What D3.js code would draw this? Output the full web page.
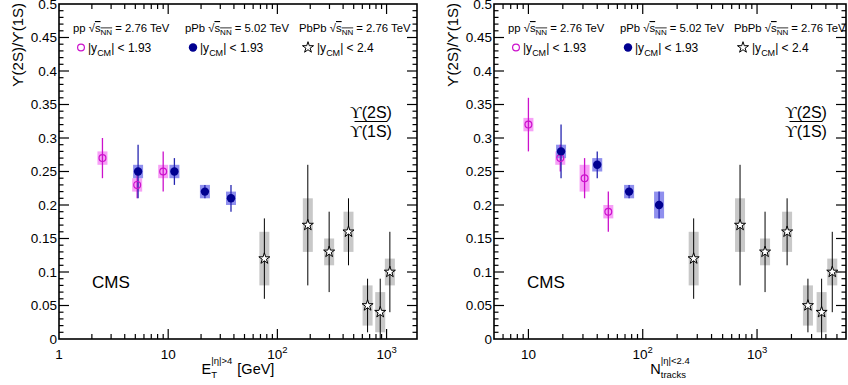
<!DOCTYPE html>
<html>
<head>
<meta charset="utf-8">
<script src="https://cdn.jsdelivr.net/npm/d3@7"></script>
<style>
  body { margin: 0; background: #fff; }
  text { font-family: "Liberation Sans", Arial, Helvetica, sans-serif; fill: #000; }
</style>
</head>
<body>
<svg id="chart" width="848" height="385"></svg>
<script>
// ---- data ----
// left panel, x = E_T^{|eta|>4} [GeV]
const ppEt = [2.5, 5.2, 9];
const ppEtRatio = [0.27, 0.23, 0.25];
const ppEtStat = [0.03, 0.02, 0.03];
const ppEtSyst = [0.01, 0.01, 0.01];

const pPbEt = [5.3, 11.4, 21.7, 37.6];
const pPbEtRatio = [0.25, 0.25, 0.22, 0.21];
const pPbEtStat = [0.04, 0.02, 0.01, 0.02];
const pPbEtSyst = [0.01, 0.01, 0.01, 0.01];

const PbPbEt = [76, 190, 298, 448, 670, 875, 1072];

// right panel, x = N_tracks^{|eta|<2.4}
const ppNtrk = [10, 19, 31, 50];
const ppNtrkRatio = [0.32, 0.27, 0.24, 0.19];
const ppNtrkStat = [0.04, 0.02, 0.03, 0.03];
const ppNtrkSyst = [0.01, 0.01, 0.02, 0.01];

const pPbNtrk = [19.3, 40, 76, 139];
const pPbNtrkRatio = [0.28, 0.26, 0.22, 0.20];
const pPbNtrkStat = [0.04, 0.02, 0.01, 0.02];
const pPbNtrkSyst = [0.01, 0.01, 0.01, 0.02];

const PbPbNtrk = [279, 710, 1175, 1832, 2787, 3672, 4550];

// PbPb ratios are the same in both panels
const PbPbRatio = [0.12, 0.17, 0.13, 0.16, 0.05, 0.04, 0.10];
const PbPbStat = [0.06, 0.09, 0.06, 0.05, 0.04, 0.05, 0.06];
const PbPbSyst = [0.04, 0.04, 0.02, 0.03, 0.03, 0.03, 0.02];

const yMajorTicks = [0, 0.05, 0.1, 0.15, 0.2, 0.25, 0.3, 0.35, 0.4, 0.45, 0.5];
const legendSystems = ["pp", "pPb", "PbPb"];
const legendEnergies = ["2.76", "5.02", "2.76"];
const legendRapidity = ["1.93", "1.93", "2.4"];

const colPP = "#cc11cc", colPPbox = "#f7a0f7";
const colPA = "#000090", colPAline = "#2525b0", colPAbox = "#9090ee";
const colAA = "#000", colAAbox = "#c8c8c8";

const svg = d3.select("#chart");
const yTop = 4, yBottom = 339;
const y = d3.scaleLinear().domain([0, 0.5]).range([yBottom, yTop]);

function series(xs, ys, stat, syst) {
  return xs.map((d, i) => ({ x: d, y: ys[i], stat: stat[i], syst: syst[i] }));
}

const panels = [
  {
    x0: 59, x1: 417, domain: [1, 1900], labels: [1, 10, 100, 1000], title: "Et",
    pp: series(ppEt, ppEtRatio, ppEtStat, ppEtSyst),
    pPb: series(pPbEt, pPbEtRatio, pPbEtStat, pPbEtSyst),
    PbPb: series(PbPbEt, PbPbRatio, PbPbStat, PbPbSyst)
  },
  {
    x0: 494, x1: 846, domain: [5, 6000], labels: [10, 100, 1000], title: "Ntrk",
    pp: series(ppNtrk, ppNtrkRatio, ppNtrkStat, ppNtrkSyst),
    pPb: series(pPbNtrk, pPbNtrkRatio, pPbNtrkStat, pPbNtrkSyst),
    PbPb: series(PbPbNtrk, PbPbRatio, PbPbStat, PbPbSyst)
  }
];

const star = d3.symbol(d3.symbolStar, 38);

function drawPanel(p, idx) {
  const x = d3.scaleLog().domain(p.domain).range([p.x0, p.x1]);
  const g = svg.append("g");

  const clipId = "clip" + idx;
  g.append("clipPath").attr("id", clipId)
    .append("rect").attr("x", p.x0).attr("y", yTop)
    .attr("width", p.x1 - p.x0).attr("height", yBottom - yTop);
  const plot = g.append("g").attr("clip-path", `url(#${clipId})`);

  // systematic boxes
  function boxes(data, fill) {
    plot.append("g").selectAll("rect").data(data).join("rect")
      .attr("x", d => x(d.x) - 5).attr("width", 10)
      .attr("y", d => y(d.y + d.syst))
      .attr("height", d => y(d.y - d.syst) - y(d.y + d.syst))
      .attr("fill", fill);
  }
  function bars(data, col, w) {
    plot.append("g").selectAll("line").data(data).join("line")
      .attr("x1", d => x(d.x)).attr("x2", d => x(d.x))
      .attr("y1", d => y(d.y + d.stat)).attr("y2", d => y(Math.max(0, d.y - d.stat)))
      .attr("stroke", col).attr("stroke-width", w);
  }
  boxes(p.pp, colPPbox);
  boxes(p.pPb, colPAbox);
  boxes(p.PbPb, colAAbox);
  bars(p.pp, colPP, 1.3);
  bars(p.pPb, colPAline, 1.3);
  bars(p.PbPb, colAA, 1);

  plot.append("g").selectAll("circle").data(p.pp).join("circle")
    .attr("cx", d => x(d.x)).attr("cy", d => y(d.y)).attr("r", 3.4)
    .attr("fill", "none").attr("stroke", colPP).attr("stroke-width", 1.2);
  plot.append("g").selectAll("circle").data(p.pPb).join("circle")
    .attr("cx", d => x(d.x)).attr("cy", d => y(d.y)).attr("r", 4.2)
    .attr("fill", colPA);
  plot.append("g").selectAll("path").data(p.PbPb).join("path")
    .attr("d", star)
    .attr("transform", d => `translate(${x(d.x)},${y(d.y)})`)
    .attr("fill", "#fff").attr("stroke", "#000").attr("stroke-width", 1);

  // frame
  g.append("rect").attr("x", p.x0).attr("y", yTop)
    .attr("width", p.x1 - p.x0).attr("height", yBottom - yTop)
    .attr("fill", "none").attr("stroke", "#000").attr("stroke-width", 1.6);

  // x ticks (bottom and top, inside)
  const xt = x.ticks().filter(t => t > p.domain[0] && t < p.domain[1]);
  const isMajor = t => Math.abs(Math.log10(t) - Math.round(Math.log10(t))) < 1e-9;
  g.append("g").selectAll("line").data(xt).join("line")
    .attr("x1", d => x(d)).attr("x2", d => x(d))
    .attr("y1", yBottom).attr("y2", d => yBottom - (isMajor(d) ? 10 : 5))
    .attr("stroke", "#000").attr("stroke-width", 1.2);
  g.append("g").selectAll("line").data(xt).join("line")
    .attr("x1", d => x(d)).attr("x2", d => x(d))
    .attr("y1", yTop).attr("y2", d => yTop + (isMajor(d) ? 10 : 5))
    .attr("stroke", "#000").attr("stroke-width", 1.2);

  // y ticks (left and right, inside)
  const yt = d3.range(1, 50).map(i => i / 100);
  const yMaj = v => Math.abs(v * 20 - Math.round(v * 20)) < 1e-9;
  g.append("g").selectAll("line").data(yt).join("line")
    .attr("x1", p.x0).attr("x2", d => p.x0 + (yMaj(d) ? 10 : 4.5))
    .attr("y1", d => y(d)).attr("y2", d => y(d))
    .attr("stroke", "#000").attr("stroke-width", 1.2);
  g.append("g").selectAll("line").data(yt).join("line")
    .attr("x1", p.x1).attr("x2", d => p.x1 - (yMaj(d) ? 10 : 4.5))
    .attr("y1", d => y(d)).attr("y2", d => y(d))
    .attr("stroke", "#000").attr("stroke-width", 1.2);

  // y tick labels
  g.append("g").selectAll("text").data(yMajorTicks).join("text")
    .attr("x", p.x0 - 2).attr("y", d => y(d)).attr("dy", "0.36em")
    .attr("text-anchor", "end").attr("font-size", 13.5)
    .text(d => d3.format("~g")(d));

  // x tick labels
  p.labels.forEach(v => {
    const t = g.append("text").attr("x", x(v)).attr("y", 359)
      .attr("text-anchor", "middle").attr("font-size", 13.5);
    const e = Math.round(Math.log10(v));
    if (e < 2) t.text(String(v));
    else {
      t.append("tspan").text("10");
      t.append("tspan").attr("font-size", 9.5).attr("dy", -6).text(e);
    }
  });

  // y title
  g.append("text")
    .attr("transform", `translate(${p.x0 - 36},3) rotate(-90)`)
    .attr("text-anchor", "end").attr("font-size", 15)
    .text("ϒ(2S)/ϒ(1S)");

  // x title
  const tg = g.append("g");
  let cx = 0;
  if (p.title === "Et") {
    const e = tg.append("text").attr("x", 0).attr("y", 374).attr("font-size", 14.5).text("E");
    cx = e.node().getComputedTextLength();
    const sup = tg.append("text").attr("x", cx).attr("y", 364).attr("font-size", 9.5).text("|η|>4");
    tg.append("text").attr("x", cx).attr("y", 378).attr("font-size", 9.5).text("T");
    cx += sup.node().getComputedTextLength() + 5;
    const gev = tg.append("text").attr("x", cx).attr("y", 374).attr("font-size", 14.5).text("[GeV]");
    cx += gev.node().getComputedTextLength();
  } else {
    const n = tg.append("text").attr("x", 0).attr("y", 374).attr("font-size", 14.5).text("N");
    cx = n.node().getComputedTextLength();
    const sup = tg.append("text").attr("x", cx).attr("y", 364).attr("font-size", 9.5).text("|η|<2.4");
    const sub = tg.append("text").attr("x", cx).attr("y", 378).attr("font-size", 9.5).text("tracks");
    cx += Math.max(sup.node().getComputedTextLength(), sub.node().getComputedTextLength());
  }
  tg.attr("transform", `translate(${(p.x0 + p.x1) / 2 - cx / 2},0)`);

  // legend
  const legOff = [14, 126, 240];
  const mkOff = [22, 134, 249];
  const txtOff = [29, 141, 258];
  legendSystems.forEach((s, i) => {
    const t = g.append("text").attr("x", p.x0 + legOff[i]).attr("y", 32).attr("font-size", 11.3);
    t.append("tspan").text(s + " ");
    t.append("tspan").text("√");
    t.append("tspan").attr("text-decoration", "overline").text("s");
    t.append("tspan").attr("text-decoration", "overline").attr("font-size", 8).attr("dy", 2.5).text("NN");
    t.append("tspan").attr("dy", -2.5).text(" = " + legendEnergies[i] + " TeV");

    const mx = p.x0 + mkOff[i], my = 47.5;
    if (i === 0) g.append("circle").attr("cx", mx).attr("cy", my).attr("r", 3.4)
      .attr("fill", "none").attr("stroke", colPP).attr("stroke-width", 1.2);
    else if (i === 1) g.append("circle").attr("cx", mx).attr("cy", my).attr("r", 4.2).attr("fill", colPA);
    else g.append("path").attr("d", star).attr("transform", `translate(${mx},${my})`)
      .attr("fill", "#fff").attr("stroke", "#000").attr("stroke-width", 1);

    const r = g.append("text").attr("x", p.x0 + txtOff[i]).attr("y", 51.5).attr("font-size", 12);
    r.append("tspan").text("|y");
    r.append("tspan").attr("font-size", 9).attr("dy", 4.5).text("CM");
    r.append("tspan").attr("dy", -4.5).text("| < " + legendRapidity[i]);
  });

  // CMS label
  g.append("text").attr("x", p.x0 + 33).attr("y", 288).attr("font-size", 17).text("CMS");

  // ratio label
  const fx = p.x0 + 312;
  g.append("text").attr("x", fx).attr("y", 117.5).attr("text-anchor", "middle").attr("font-size", 16)
    .html('<tspan font-family="Liberation Serif, serif">ϒ</tspan>(2S)');
  g.append("line").attr("x1", fx - 16.5).attr("x2", fx + 16.5).attr("y1", 121.5).attr("y2", 121.5)
    .attr("stroke", "#000").attr("stroke-width", 1);
  g.append("text").attr("x", fx).attr("y", 137).attr("text-anchor", "middle").attr("font-size", 16)
    .html('<tspan font-family="Liberation Serif, serif">ϒ</tspan>(1S)');
}

panels.forEach(drawPanel);
</script>
</body>
</html>
